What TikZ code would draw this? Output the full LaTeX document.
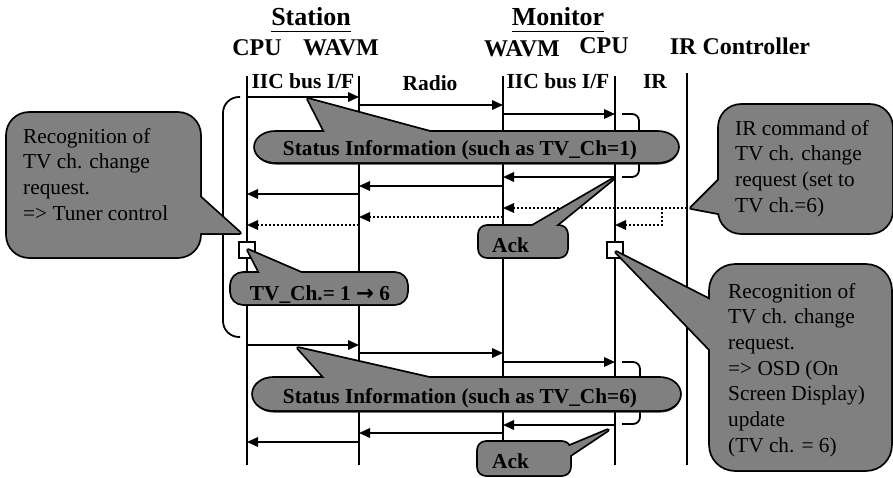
\documentclass[tikz,border=0pt]{standalone}
\usepackage{fontspec}
\setmainfont{Liberation Serif}
\newfontfamily\arrowfont{DejaVu Sans}
\usetikzlibrary{arrows.meta}
\definecolor{cgray}{RGB}{128,128,128}
% speech bubble: body path #2 (options #1) merged with pointer triangle #3
\newcommand\bubble[3]{%
  \draw[cedge,#1] #2;
  \draw[cedge] #3;
  \fill[cgray,#1] #2;
  \fill[cgray] #3;}
\newcommand\shadowbubble[2]{%
  \fill[black!85,shift={(0.5,2.5)}] #1;
  \bubble{}{#1}{#2}}
\begin{document}
\begin{tikzpicture}[x=1pt,y=-1pt,
  lifeline/.style={line width=1.8pt},
  msg/.style={line width=1.8pt,-{Triangle[length=11pt,width=9.5pt]}},
  dmsg/.style={msg,dash pattern=on 2.2pt off 1.8pt},
  cedge/.style={line width=3.6pt,line join=round},
  brace/.style={line width=1.8pt},
  eventbox/.style={draw,line width=1.5pt,fill=white,minimum size=16pt,inner sep=0pt},
  hd/.style={inner sep=0pt,anchor=base,font=\fontsize{26}{30}\selectfont\bfseries},
  unit/.style={inner sep=0pt,anchor=base,font=\fontsize{24}{28}\selectfont\bfseries},
  bus/.style={inner sep=0pt,anchor=base,font=\fontsize{21.5}{25}\selectfont\bfseries},
  note/.style={inner sep=0pt,anchor=base west,font=\fontsize{21.3}{25.7}\selectfont},
  bnote/.style={inner sep=0pt,anchor=base,font=\fontsize{21.3}{25}\selectfont\bfseries},
]
\useasboundingbox (0,0) rectangle (893,477);

% lifelines
\coordinate (sc) at (247,76);  \coordinate (scb) at (247,465);
\coordinate (sw) at (359,76);  \coordinate (swb) at (359,465);
\coordinate (mw) at (503,76);  \coordinate (mwb) at (503,465);
\coordinate (mc) at (615,76);  \coordinate (mcb) at (615,465);
\coordinate (ir) at (687,73);  \coordinate (irb) at (687,465);
\foreach \a/\b in {sc/scb,sw/swb,mw/mwb,mc/mcb,ir/irb}
  \draw[lifeline] (\a) -- (\b);

% brackets
\draw[brace,rounded corners=16] (240,97) -- (223,97) -- (223,337) -- (240,337);
\draw[brace,rounded corners=7] (622,114) -- (639,114) -- (639,177) -- (622,177);
\draw[brace,rounded corners=7] (622,362) -- (640,362) -- (640,424) -- (622,424);

% first status exchange
\draw[msg] (sc |- 0,97) -- (sw |- 0,97);
\draw[msg] (sw |- 0,105) -- (mw |- 0,105);
\draw[msg] (mw |- 0,114) -- (mc |- 0,114);
\draw[msg] (mc |- 0,177) -- (mw |- 0,177);
\draw[msg] (mw |- 0,186) -- (sw |- 0,186);
\draw[msg] (sw |- 0,194) -- (sc |- 0,194);

% IR command relay
\coordinate (split) at (662,208);
\draw[dmsg] (ir |- 0,208) -- (mw |- 0,208);
\draw[dmsg] (split) -- (662,225) -- (mc |- 0,225);
\draw[dmsg] (mw |- 0,217) -- (sw |- 0,217);
\draw[dmsg] (sw |- 0,225) -- (sc |- 0,225);

% second status exchange
\draw[msg] (sc |- 0,345) -- (sw |- 0,345);
\draw[msg] (sw |- 0,353) -- (mw |- 0,353);
\draw[msg] (mw |- 0,362) -- (mc |- 0,362);
\draw[msg] (mc |- 0,425) -- (mw |- 0,425);
\draw[msg] (mw |- 0,433) -- (sw |- 0,433);
\draw[msg] (sw |- 0,442) -- (sc |- 0,442);

% events
\node[eventbox] (evS) at (247,250) {};
\node[eventbox] (evM) at (615,250) {};

% speech bubbles
\shadowbubble{(275,132) -- (658,132) arc[start angle=-90,end angle=90,x radius=20,y radius=15] -- (275,162) arc[start angle=90,end angle=270,x radius=20,y radius=15] -- cycle}
  {(308,99) -- (329,140) -- (460,140) -- cycle}
\shadowbubble{(273,378) -- (660,378) arc[start angle=-90,end angle=90,x radius=20,y radius=16] -- (273,410) arc[start angle=90,end angle=270,x radius=20,y radius=16] -- cycle}
  {(298,348) -- (332,386) -- (465,386) -- cycle}
\bubble{rounded corners=22}{(7,113) rectangle (200,257)}{(240,233) -- (190,188) -- (190,233) -- cycle}
\bubble{rounded corners=12}{(231,273) rectangle (407,304)}{(248,250) -- (264,281) -- (320,281) -- cycle}
\bubble{rounded corners=8}{(479,226) rectangle (567,257)}{(613,179) -- (522,232) -- (548,232) -- cycle}
\bubble{rounded corners=8}{(478,442) rectangle (570,475)}{(608,430) -- (560,450) -- (560,462) -- cycle}
\bubble{rounded corners=22}{(719,105) rectangle (892,233)}{(691,208) -- (728,171) -- (728,215) -- cycle}
\bubble{rounded corners=25}{(710,265) rectangle (891,470)}{(616,252) -- (720,305) -- (720,360) -- cycle}

% headings
\node[hd] (station) at (311,25) {Station};
\node[hd] (monitor) at (558,25) {Monitor};
\draw[line width=1.6pt] ([yshift=-6.5pt]station.base west) -- ([yshift=-6.5pt]station.base east);
\draw[line width=1.6pt] ([yshift=-6.5pt]monitor.base west) -- ([yshift=-6.5pt]monitor.base east);
\node[unit] (cpuS) at (257,55) {CPU};
\node[unit] (wavmS) at (341,55) {WAVM};
\node[unit] (wavmM) at (522,56) {WAVM};
\node[unit] (cpuM) at (604,53) {CPU};
\node[unit] (irc) at (740,54) {IR Controller};
\node[bus] (busS) at (303,88) {IIC bus I/F};
\node[bus] (radio) at (430,90) {Radio};
\node[bus] (busM) at (558,88) {IIC bus I/F};
\node[bus] (irlink) at (655,88) {IR};

% bubble texts
\node[bnote] (stat1) at (460,155) {Status Information (such as TV\_Ch=1)};
\node[bnote] (stat2) at (460,403) {Status Information (such as TV\_Ch=6)};
\node[bnote] (chg) at (320,300) {TV\_Ch.= 1 {\arrowfont\bfseries →} 6};
\node[bnote,anchor=base west] (ack1) at (492,252) {Ack};
\node[bnote,anchor=base west] (ack2) at (492,468) {Ack};
\node[note] (tuner) at (23,143) {\begin{tabular}[t]{@{}l@{}}Recognition of\\TV ch. change\\request.\\=> Tuner control\end{tabular}};
\node[note] (ircmd) at (735,135) {\begin{tabular}[t]{@{}l@{}}IR command of\\TV ch. change\\request (set to\\TV ch.=6)\end{tabular}};
\node[note] (osd) at (728,298) {\begin{tabular}[t]{@{}l@{}}Recognition of\\TV ch. change\\request.\\=> OSD (On\\Screen Display)\\update\\(TV ch. = 6)\end{tabular}};
\end{tikzpicture}
\end{document}
